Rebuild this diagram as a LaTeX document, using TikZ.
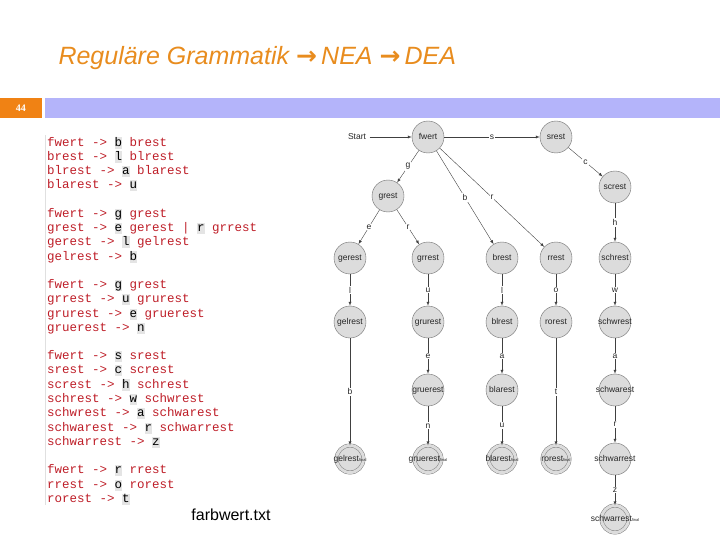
\documentclass[tikz,border=0pt]{standalone}
\usepackage{fontspec}
\setmainfont{Liberation Sans}
\setmonofont{Liberation Mono}
\newfontfamily\arrowfont{DejaVu Sans}
\newfontfamily\numfont{Liberation Serif}
\usetikzlibrary{arrows}

\definecolor{titleorange}{RGB}{232,140,30}
\definecolor{boxorange}{RGB}{240,130,20}
\definecolor{barblue}{RGB}{180,180,250}
\definecolor{ntred}{RGB}{190,30,40}
\definecolor{termgray}{RGB}{228,228,228}
\definecolor{statefill}{RGB}{220,220,220}
\definecolor{stateline}{RGB}{110,110,110}

\newcommand{\term}[1]{{\setlength{\fboxsep}{0pt}\colorbox{termgray}{\color{black}\vphantom{Ag}#1}}}
\newcommand{\fin}[1]{#1\raisebox{-.6pt}{\fontsize{4}{4}\selectfont final}}
\newcommand{\arr}{{\arrowfont\upshape\bfseries →}\,}

\begin{document}
\begin{tikzpicture}[x=1pt,y=-1pt]

	\tikzstyle state=[circle, draw=stateline, fill=statefill, minimum size=32pt, inner sep=0pt, text height=6pt, text depth=1.5pt, font=\fontsize{8.5}{9}\selectfont, text=black!85];
	\tikzstyle final=[state, double=statefill, double distance=3pt, minimum size=27pt];
	\tikzstyle trans=[-latex, black!75, thin];
	\tikzstyle sym=[fill=white, inner sep=1pt, font=\fontsize{8.5}{9}\selectfont, text=black!85];
	\tikzstyle code=[anchor=west, inner sep=0pt, text height=10pt, text depth=3pt, font=\ttfamily\fontsize{12.5}{14}\selectfont, text=ntred];

	\useasboundingbox (0,0) rectangle (720,540);

	% header
	\node[anchor=west, text=titleorange, font=\fontsize{25}{28}\selectfont\itshape] (title) at (55,58) {Reguläre Grammatik \arr NEA \arr DEA};
	\fill[boxorange] (0,98) rectangle (42,118);
	\node[text=white, font=\numfont\bfseries\fontsize{10}{12}\selectfont] (pagenr) at (21,108) {44};
	\fill[barblue] (45,98) rectangle (720,118);

	% grammar file
	\draw[black!12] (45,135) -- (45,505);
	\foreach \y/\line in {143/{fwert -> \term{b} brest},
			157/{brest -> \term{l} blrest},
			171/{blrest -> \term{a} blarest},
			185/{blarest -> \term{u}},
			214/{fwert -> \term{g} grest},
			228/{grest -> \term{e} gerest | \term{r} grrest},
			242/{gerest -> \term{l} gelrest},
			257/{gelrest -> \term{b}},
			285/{fwert -> \term{g} grest},
			299/{grrest -> \term{u} grurest},
			314/{grurest -> \term{e} gruerest},
			328/{gruerest -> \term{n}},
			356/{fwert -> \term{s} srest},
			370/{srest -> \term{c} screst},
			385/{screst -> \term{h} schrest},
			399/{schrest -> \term{w} schwrest},
			413/{schwrest -> \term{a} schwarest},
			428/{schwarest -> \term{r} schwarrest},
			442/{schwarrest -> \term{z}},
			470/{fwert -> \term{r} rrest},
			485/{rrest -> \term{o} rorest},
			499/{rorest -> \term{t}}}
		\node[code] (line\y) at (47,\y) {\line};
	\node[font=\fontsize{16}{18}\selectfont] (file) at (231,515) {farbwert.txt};

	% automaton
	\node[font=\fontsize{8.5}{9}\selectfont, text=black!85] (start) at (357,137) {Start};
	\node[state] (fwert) at (428,137) {fwert};
	\node[state] (srest) at (556,137) {srest};
	\node[state] (grest) at (388,196) {grest};
	\node[state] (screst) at (615,187) {screst};
	\foreach \x/\n in {350/gerest,428/grrest,502/brest,556/rrest,615/schrest}
		\node[state] (\n) at (\x,258) {\makebox[0pt]{\n}};
	\foreach \x/\n in {350/gelrest,428/grurest,502/blrest,556/rorest,615/schwrest}
		\node[state] (\n) at (\x,322) {\makebox[0pt]{\n}};
	\foreach \x/\n in {428/gruerest,502/blarest,615/schwarest}
		\node[state] (\n) at (\x,390) {\makebox[0pt]{\n}};
	\foreach \x/\n in {350/gelrest,428/gruerest,502/blarest,556/rorest}
		\node[final] (f\n) at (\x,459) {\makebox[0pt]{\fin{\n}}};
	\node[state] (schwarrest) at (615,459) {\makebox[0pt]{schwarrest}};
	\node[final] (fschwarrest) at (615,519) {\makebox[0pt]{\fin{schwarrest}}};

	\draw[trans] (start) -- (fwert);
	\foreach \a/\b/\s in {fwert/srest/s, fwert/grest/g, fwert/brest/b, fwert/rrest/r,
			grest/gerest/e, grest/grrest/r, srest/screst/c, screst/schrest/h,
			gerest/gelrest/l, grrest/grurest/u, brest/blrest/l, rrest/rorest/o, schrest/schwrest/w,
			gelrest/fgelrest/b, grurest/gruerest/e, blrest/blarest/a, rorest/frorest/t, schwrest/schwarest/a,
			gruerest/fgruerest/n, blarest/fblarest/u, schwarest/schwarrest/r, schwarrest/fschwarrest/z}
		\draw[trans] (\a) -- node[sym] {\s} (\b);

\end{tikzpicture}
\end{document}
